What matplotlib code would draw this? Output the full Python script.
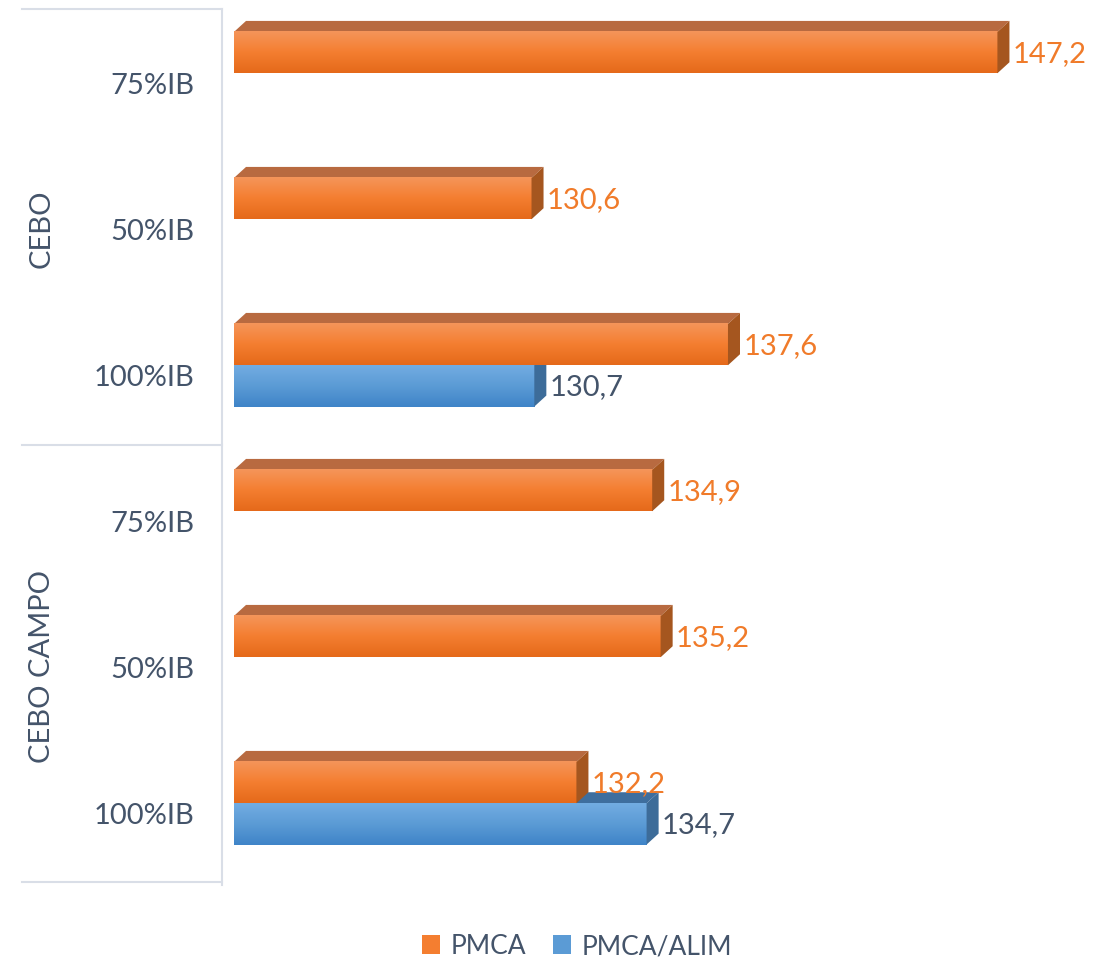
import numpy as np
import matplotlib
matplotlib.use("Agg")
import matplotlib.pyplot as plt
from matplotlib.colors import LinearSegmentedColormap
from matplotlib.patches import Polygon, Patch
from matplotlib.lines import Line2D

# Data
groups = ["CEBO", "CEBO CAMPO"]
levels = ["75%IB", "50%IB", "100%IB"]
pmca = [147.2, 130.6, 137.6, 134.9, 135.2, 132.2]
pmca_alim = [None, None, 130.7, None, None, 134.7]
series_names = ["PMCA", "PMCA/ALIM"]

plt.rcParams['font.family'] = ['Lato', 'DejaVu Sans']

W, H = 1094, 962
fig = plt.figure(figsize=(W / 100, H / 100), dpi=100)

# axis spans 120..150, rows 146 px high starting at px 10
x_min, x_max = 120, 150
ax = fig.add_axes([234 / W, 1 - 886 / H, 842 / W, 876 / H])
ax.axis("off")

text_col = "#44546A"
orange = dict(grad=["#F5955A", "#F47E30", "#E5691A"], top="#B86A40",
              side=["#A5561F", "#8E4512"], label="#F07B2A")
blue = dict(grad=["#72ACE2", "#5B9BD5", "#3F84C8"], top="#3E6E9E",
            side=["#3D6C99", "#2A5580"], label=text_col)

bar_h = 0.283
dx = 12 / 28.0      # depth offset in data units (x)
dy = -11 / 146.0    # depth offset in data units (y, axis inverted)


def draw_bar(val, y_top, st):
    y_bot = y_top + bar_h
    x0 = x_min
    # top face
    ax.add_patch(Polygon([(x0, y_top), (x0 + dx, y_top + dy), (val + dx, y_top + dy), (val, y_top)],
                         closed=True, facecolor=st["top"], edgecolor="none", zorder=2))
    # front face with vertical gradient
    cmap = LinearSegmentedColormap.from_list("g", st["grad"])
    grad = np.linspace(0, 1, 64).reshape(-1, 1)
    ax.imshow(grad, cmap=cmap, aspect="auto", extent=(x0, val, y_bot, y_top),
              origin="upper", zorder=3, interpolation="bilinear")
    # side face
    ax.add_patch(Polygon([(val, y_top), (val + dx, y_top + dy), (val + dx, y_bot + dy), (val, y_bot)],
                         closed=True, facecolor=st["side"][0], edgecolor="none", zorder=3))
    ax.text(val + dx + 0.12, y_top + bar_h / 2, f"{val:.1f}".replace(".", ","),
            color=st["label"], fontsize=21, va="center", ha="left", zorder=5)


for i in range(len(pmca)):
    c = i
    if pmca_alim[i] is not None:
        draw_bar(pmca_alim[i], c - 0.06, blue)
    draw_bar(pmca[i], c - 0.06 - bar_h, orange)

ax.set_xlim(x_min, x_max)
ax.set_ylim(len(pmca) - 0.5, -0.5)

# category labels
for i in range(len(pmca)):
    ax.text(x_min - 39 / 28.0, i + 0.02, levels[i % len(levels)], color=text_col,
            fontsize=21, ha="right", va="center", clip_on=False)

# group labels and separators
for g, name in enumerate(groups):
    mid = g * len(levels) + (len(levels) - 1) / 2
    ax.text(x_min - 192 / 28.0, mid, name, color=text_col, fontsize=21,
            rotation=90, ha="center", va="center", clip_on=False)

line_col = "#D9DEE7"
fig.add_artist(Line2D([222 / W, 222 / W], [1 - 10 / H, 1 - 886 / H], color=line_col, lw=1.5))
for yp in [10, 446, 883]:
    fig.add_artist(Line2D([22 / W, 222 / W], [1 - yp / H, 1 - yp / H], color=line_col, lw=1.5))

handles = [Patch(facecolor=orange["grad"][1], label=series_names[0]),
           Patch(facecolor=blue["grad"][1], label=series_names[1])]
fig.legend(handles=handles, loc="center", bbox_to_anchor=(577 / W, 1 - 947 / H), ncol=2,
           frameon=False, fontsize=19, handlelength=0.7, handleheight=0.7,
           handletextpad=0.4, columnspacing=1.0, labelcolor=text_col)

fig.savefig("out.png", dpi=100)
